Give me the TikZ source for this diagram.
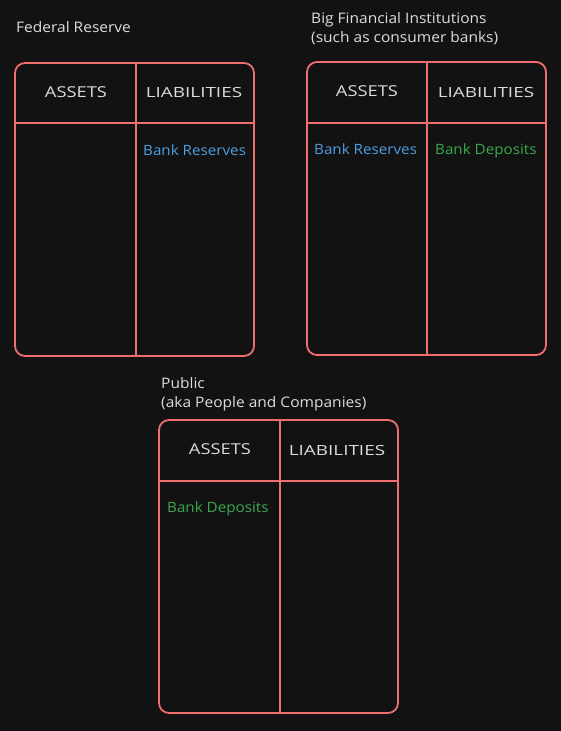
\documentclass[tikz,border=0pt]{standalone}
\usepackage{fontspec}
\setmainfont{Open Sans}[FakeStretch=1.07]
\newfontfamily\headA{Open Sans}[FakeStretch=1.22]
\newfontfamily\headL{Open Sans}[FakeStretch=1.35]
\definecolor{bg}{HTML}{121212}
\definecolor{boxred}{RGB}{240,110,110}
\definecolor{txt}{RGB}{220,220,220}
\definecolor{blu}{RGB}{78,158,226}
\definecolor{grn}{RGB}{60,168,78}
\begin{document}
\begin{tikzpicture}[x=1pt,y=-1pt,
  tbox/.style={draw=boxred,line width=1.8pt,rounded corners=10pt,minimum width=239pt,minimum height=293pt,inner sep=0pt},
  divider/.style={draw=boxred,line width=1.8pt},
  title/.style={text=txt,font=\fontsize{14.5}{19}\selectfont,anchor=west,inner sep=0pt,align=left},
  heada/.style={text=txt,font=\headA\fontsize{15}{16}\selectfont,inner sep=0pt},
  headl/.style={text=txt,font=\headL\fontsize{14}{16}\selectfont,inner sep=0pt},
  entry/.style={font=\fontsize{14.2}{16}\selectfont,inner sep=0pt,anchor=base west}]
\fill[bg] (0,0) rectangle (561,731);
\useasboundingbox (0,0) rectangle (561,731);
% Federal Reserve
\node[title] (t1) at (16,27.5) {Federal Reserve};
\node[tbox] (b1) at (134.5,209.5) {};
\coordinate (b1hl) at (15,123); \coordinate (b1hr) at (254,123);
\path (b1.north) ++(1.5,0) coordinate (b1vt) (b1.south) ++(1.5,0) coordinate (b1vb);
\draw[divider] (b1vt) -- (b1vb);
\draw[divider] (b1hl) -- (b1hr);
\node[heada] (a1) at (76,92) {ASSETS};
\node[headl] (l1) at (194,92) {LIABILITIES};
\node[entry,text=blu] (e1) at (143,155) {Bank Reserves};
% Big Financial Institutions
\node[title] (t2) at (311,29) {Big Financial Institutions\\(such as consumer banks)};
\node[tbox] (b2) at (426.5,208.5) {};
\coordinate (b2hl) at (307,123); \coordinate (b2hr) at (546,123);
\path (b2.north) ++(0.5,0) coordinate (b2vt) (b2.south) ++(0.5,0) coordinate (b2vb);
\draw[divider] (b2vt) -- (b2vb);
\draw[divider] (b2hl) -- (b2hr);
\node[heada] (a2) at (367,91) {ASSETS};
\node[headl] (l2) at (486,92) {LIABILITIES};
\node[entry,text=blu] (e2) at (314,154) {Bank Reserves};
\node[entry,text=grn] (e3) at (435,154) {Bank Deposits};
% Public
\node[title] (t3) at (161,394) {Public\\(aka People and Companies)};
\node[tbox] (b3) at (278.5,566.5) {};
\coordinate (b3hl) at (159,481); \coordinate (b3hr) at (398,481);
\path (b3.north) ++(1.5,0) coordinate (b3vt) (b3.south) ++(1.5,0) coordinate (b3vb);
\draw[divider] (b3vt) -- (b3vb);
\draw[divider] (b3hl) -- (b3hr);
\node[heada] (a3) at (220,449) {ASSETS};
\node[headl] (l3) at (337,450) {LIABILITIES};
\node[entry,text=grn] (e4) at (167,512) {Bank Deposits};
\end{tikzpicture}
\end{document}
